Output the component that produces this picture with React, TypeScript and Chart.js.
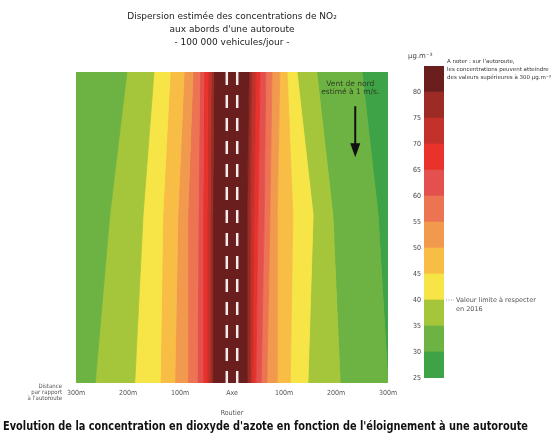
import React, { useEffect, useRef } from "react";
import { Chart, registerables } from "chart.js";

Chart.register(...registerables);

// ---------- data ----------
const titleLines = [
  "Dispersion estimée des concentrations de NO₂",
  "aux abords d'une autoroute",
  "- 100 000 vehicules/jour -",
];
const captionText =
  "Evolution de la concentration en dioxyde d'azote en fonction de l'éloignement à une autoroute";
const distanceLabelLines = ["Distance", "par rapport", "à l'autoroute"];

// vertical rows where band boundaries were read: top, middle, bottom
const rowLevels = [10, 5.4, 0];

// band boundaries (metres from the road axis) at [top, middle, bottom], left to right
const bandEdges: number[][] = [
  [-300, -300, -300],
  [-202, -235, -263],
  [-150, -171, -187],
  [-119, -133, -138],
  [-92, -104, -110],
  [-75, -85, -85],
  [-62, -65, -67],
  [-54, -56, -56],
  [-46, -48, -48],
  [-40, -42, -42],
  [-35, -37, -37],
  [33, 29, 29],
  [38, 35, 35],
  [46, 42, 40],
  [54, 50, 46],
  [65, 62, 56],
  [77, 73, 67],
  [92, 87, 87],
  [106, 117, 112],
  [125, 156, 146],
  [163, 194, 208],
  [250, 281, 300],
  [300, 300, 300],
];
// concentration class (lower bound, µg/m3) of each band between consecutive edges
const bandClasses = [30, 35, 40, 45, 50, 55, 60, 65, 70, 75, 80, 75, 70, 65, 60, 55, 50, 45, 40, 35, 30, 25];

// road lane markings (metres)
const laneMarks = [-10, 10];

// x axis
const distanceTicks = [-300, -200, -100, 0, 100, 200, 300];
const distanceTickLabels: (string | string[])[] = ["300m", "200m", "100m", ["Axe", "Routier"], "100m", "200m", "300m"];

// colour scale classes
const colorbarClasses = [25, 30, 35, 40, 45, 50, 55, 60, 65, 70, 75, 80];
const colorbarTicks = [25, 30, 35, 40, 45, 50, 55, 60, 65, 70, 75, 80];
const limitValue = 40;

// wind annotation
const windLines = ["Vent de nord", "estimé à 1 m/s."];
const windX = 237;
const windTextLevels = [9.61, 9.35];
const windArrowLevels = [8.9, 7.26];

const noteLines = [
  "A noter : sur l'autoroute,",
  "les concentrations peuvent atteindre",
  "des valeurs supérieures à 300 µg.m⁻³",
];
const limitLines = ["Valeur limite à respecter", "en 2016"];
const unitLabel = "µg.m⁻³";

// ---------- styles ----------
const classColors: Record<number, string> = {
  25: "#3ea346",
  30: "#6cb343",
  35: "#a5c63a",
  40: "#f7e548",
  45: "#f8bd45",
  50: "#f19a4e",
  55: "#ec7452",
  60: "#e4504d",
  65: "#e8322b",
  70: "#c2322a",
  75: "#9b2b24",
  80: "#6a1e1e",
};
const SANS = "'DejaVu Sans', sans-serif";
const NARROW = "'Liberation Sans Narrow', 'DejaVu Sans Condensed', 'Arial Narrow', sans-serif";
const CAPTION_WIDTH = 525;

const mainAnnotations = {
  id: "mainAnnotations",
  afterDraw(chart: any) {
    const { ctx, scales, chartArea } = chart;
    const x = scales.x;
    const y = scales.y;
    ctx.save();
    // wind text
    const wx = x.getPixelForValue(windX);
    ctx.fillStyle = "#2e3d24";
    ctx.font = `7.5px ${SANS}`;
    ctx.textAlign = "center";
    ctx.textBaseline = "middle";
    windLines.forEach((t, i) => ctx.fillText(t, wx - 5, y.getPixelForValue(windTextLevels[i])));
    // wind arrow
    const y1 = y.getPixelForValue(windArrowLevels[0]);
    const y2 = y.getPixelForValue(windArrowLevels[1]);
    ctx.strokeStyle = "#111";
    ctx.lineWidth = 2;
    ctx.beginPath();
    ctx.moveTo(wx, y1);
    ctx.lineTo(wx, y2 - 10);
    ctx.stroke();
    ctx.fillStyle = "#111";
    ctx.beginPath();
    ctx.moveTo(wx - 5, y2 - 14);
    ctx.lineTo(wx + 5, y2 - 14);
    ctx.lineTo(wx, y2);
    ctx.closePath();
    ctx.fill();
    // distance label
    ctx.fillStyle = "#555";
    ctx.font = `6px ${NARROW}`;
    ctx.textAlign = "right";
    distanceLabelLines.forEach((t, i) => ctx.fillText(t, chartArea.left - 14, chartArea.bottom + 3 + i * 6));
    // caption (condensed to fit the page width)
    ctx.fillStyle = "#111";
    ctx.font = `bold 11.5px ${NARROW}`;
    ctx.textAlign = "left";
    const w = ctx.measureText(captionText).width;
    const sx = Math.min(1, CAPTION_WIDTH / w);
    ctx.translate(3, 427);
    ctx.scale(sx, 1);
    ctx.fillText(captionText, 0, 0);
    ctx.restore();
  },
};

const barAnnotations = {
  id: "barAnnotations",
  afterDraw(chart: any) {
    const { ctx, scales, chartArea } = chart;
    const y = scales.y;
    ctx.save();
    ctx.textBaseline = "middle";
    ctx.textAlign = "left";
    ctx.fillStyle = "#444";
    ctx.font = `7px ${SANS}`;
    ctx.fillText(unitLabel, chartArea.left - 16, 56);
    ctx.fillStyle = "#333";
    ctx.font = `5.5px ${SANS}`;
    noteLines.forEach((t, i) => ctx.fillText(t, chartArea.right + 3, 62 + i * 8));
    const ly = y.getPixelForValue(limitValue);
    ctx.strokeStyle = "#777";
    ctx.lineWidth = 0.8;
    ctx.setLineDash([1, 1.5]);
    ctx.beginPath();
    ctx.moveTo(chartArea.right + 2, ly);
    ctx.lineTo(chartArea.right + 10, ly);
    ctx.stroke();
    ctx.setLineDash([]);
    ctx.fillStyle = "#555";
    ctx.font = `6.5px ${SANS}`;
    limitLines.forEach((t, i) => ctx.fillText(t, chartArea.right + 12, ly + i * 9));
    ctx.restore();
  },
};

export default function App() {
  const mainRef = useRef<HTMLCanvasElement>(null);
  const barRef = useRef<HTMLCanvasElement>(null);

  useEffect(() => {
    Chart.defaults.font.family = SANS;

    const bandDatasets = bandClasses.map((cls, i) => {
      const L = bandEdges[i];
      const R = bandEdges[i + 1];
      const col = classColors[cls];
      return {
        type: "line" as const,
        data: [
          { x: L[0], y: rowLevels[0] },
          { x: L[1], y: rowLevels[1] },
          { x: L[2], y: rowLevels[2] },
          { x: R[2], y: rowLevels[2] },
          { x: R[1], y: rowLevels[1] },
          { x: R[0], y: rowLevels[0] },
        ],
        fill: "shape",
        backgroundColor: col,
        borderColor: col,
        borderWidth: 0.8,
        pointRadius: 0,
        tension: 0,
        clip: 0,
      };
    });
    const laneDatasets = laneMarks.map((m) => ({
      type: "line" as const,
      data: [
        { x: m, y: rowLevels[0] },
        { x: m, y: rowLevels[2] },
      ],
      fill: false,
      borderColor: "#f4ecea",
      borderWidth: 2.5,
      borderDash: [13, 10],
      pointRadius: 0,
      clip: 0,
    }));

    const c1 = new Chart(mainRef.current!, {
      type: "line",
      data: { datasets: [...laneDatasets, ...bandDatasets] as any },
      options: {
        responsive: false,
        animation: false,
        events: [],
        layout: { padding: { left: 76, right: 168, top: 0, bottom: 10 } },
        plugins: {
          legend: { display: false },
          tooltip: { enabled: false },
          title: {
            display: true,
            text: titleLines,
            color: "#222",
            font: { size: 9, weight: "normal", lineHeight: "13px", family: SANS },
            padding: { top: 10.5, bottom: 22.5 },
          },
        },
        scales: {
          x: {
            type: "linear",
            min: -300,
            max: 300,
            afterBuildTicks: (axis: any) => {
              axis.ticks = distanceTicks.map((v) => ({ value: v }));
            },
            ticks: {
              autoSkip: false,
              maxRotation: 0,
              padding: 0,
              color: "#555",
              font: { size: 7, lineHeight: "20px", family: NARROW },
              callback: (v: any) => {
                const idx = distanceTicks.indexOf(Number(v));
                return idx >= 0 ? distanceTickLabels[idx] : "";
              },
            },
            grid: { display: false, drawTicks: false },
            border: { display: false },
          },
          y: {
            type: "linear",
            display: false,
            min: 0,
            max: 10,
          },
        },
      } as any,
      plugins: [mainAnnotations],
    });

    const c2 = new Chart(barRef.current!, {
      type: "bar",
      data: {
        labels: ["c"],
        datasets: colorbarClasses.map((cls) => ({
          data: [[cls, cls + 5]],
          backgroundColor: classColors[cls],
          borderWidth: 0,
          grouped: false,
          barPercentage: 1,
          categoryPercentage: 1,
        })) as any,
      },
      options: {
        responsive: false,
        animation: false,
        events: [],
        layout: { padding: { left: 0, right: 112, top: 66, bottom: 55 } },
        plugins: { legend: { display: false }, tooltip: { enabled: false }, title: { display: false } },
        scales: {
          x: { display: false },
          y: {
            type: "linear",
            min: 25,
            max: 85,
            afterFit: (s: any) => {
              s.width = 32;
            },
            afterBuildTicks: (axis: any) => {
              axis.ticks = colorbarTicks.map((v) => ({ value: v }));
            },
            ticks: {
              padding: 3,
              color: "#444",
              font: { size: 7, family: NARROW },
              callback: (v: any) => String(v),
            },
            grid: { display: false, drawTicks: false },
            border: { display: false },
          },
        },
      } as any,
      plugins: [barAnnotations],
    });

    return () => {
      c1.destroy();
      c2.destroy();
    };
  }, []);

  return (
    <div style={{ position: "absolute", left: 0, top: 0, width: 556, height: 433, background: "#fff" }}>
      <canvas
        ref={mainRef}
        width={556}
        height={433}
        style={{ position: "absolute", left: 0, top: 0, width: 556, height: 433 }}
      />
      <canvas
        ref={barRef}
        width={164}
        height={433}
        style={{ position: "absolute", left: 392, top: 0, width: 164, height: 433 }}
      />
    </div>
  );
}
